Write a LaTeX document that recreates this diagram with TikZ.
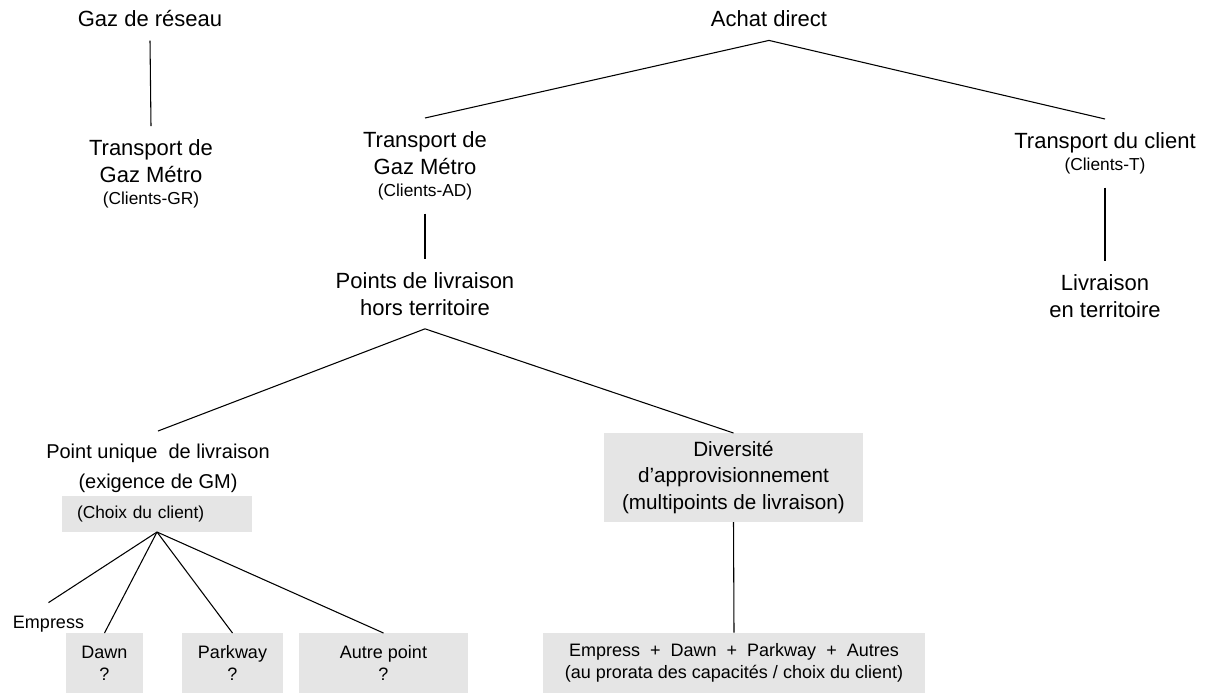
\documentclass[tikz,border=0pt]{standalone}
\usepackage{fontspec}
\setmainfont{Liberation Sans}

\begin{document}
\begin{tikzpicture}[x=0.75pt, y=-0.75pt, line width=0.8pt,
  txt/.style={align=center, inner sep=0pt, outer ysep=10pt, font=\fontsize{16.5}{20.25}\selectfont},
  mid/.style={align=center, inner sep=0pt, outer ysep=10pt, font=\fontsize{15}{22.5}\selectfont},
  grisbox/.style={fill=gray!20, align=center, inner sep=0pt, outer sep=0pt},
  petit/.style={font=\fontsize{13.5}{16.5}\selectfont}]

\useasboundingbox (0,0) rectangle (1206,694);

\newcommand{\clients}[1]{\\[-3.5pt]{\fontsize{13}{15}\selectfont #1}}

% haut
\node[txt] (gaz) at (150,19) {Gaz de réseau};
\node[txt, anchor=north] (trgr) at (151,126) {Transport de\\Gaz Métro\clients{(Clients-GR)}};
\draw (gaz.south) -- (trgr.north);

\node[txt] (achat) at (769,19) {Achat direct};
\node[txt, anchor=north] (trad) at (425,118) {Transport de\\Gaz Métro\clients{(Clients-AD)}};
\node[txt, anchor=north] (trct) at (1105,119) {Transport du client\clients{(Clients-T)}};
\draw (trad.north) -- (achat.south) -- (trct.north);

\node[txt, anchor=north] (pts) at (425,259) {Points de livraison\\hors territoire};
\node[txt, anchor=north] (liv) at (1105,261) {Livraison\\en territoire};
\draw (trad.south) -- (pts.north);
\draw (trct.south) -- (liv.north);

% hors territoire
\node[mid, anchor=north] (pu) at (158,431) {Point unique~ de livraison\\(exigence de GM)};
\node[grisbox, minimum width=194.25pt, minimum height=66.75pt, font=\fontsize{15.5}{20}\selectfont] (div) at (733.5,477.5)
  {Diversité\\d’approvisionnement\\(multipoints de livraison)};
\draw (pu.north) -- (pts.south) -- (div.north);

\node[grisbox, anchor=north west, minimum width=142.5pt, minimum height=27pt, text width=120pt, align=left,
  inner xsep=11.25pt, font=\fontsize{13}{15}\selectfont] (choix) at (62,496) {(Choix du client)};

\node[txt, petit] (empress) at (48.5,624) {Empress};
\node[grisbox, petit, minimum width=57.75pt, minimum height=45pt] (dawn) at (104.5,663) {Dawn\\?};
\node[grisbox, petit, minimum width=75.75pt, minimum height=45pt] (park) at (232.5,663) {Parkway\\?};
\node[grisbox, petit, minimum width=126.75pt, minimum height=45pt] (autre) at (383.5,663) {Autre point\\?};
\foreach \n in {empress,dawn,park,autre}
  \draw (choix.south) -- (\n.north);

\node[grisbox, petit, minimum width=286.5pt, minimum height=45pt] (tous) at (734,662.5)
  {Empress~~+~~Dawn~~+~~Parkway~~+~~Autres\\(au prorata des capacités / choix du client)};
\draw (div.south) -- (tous.north);

\end{tikzpicture}
\end{document}
